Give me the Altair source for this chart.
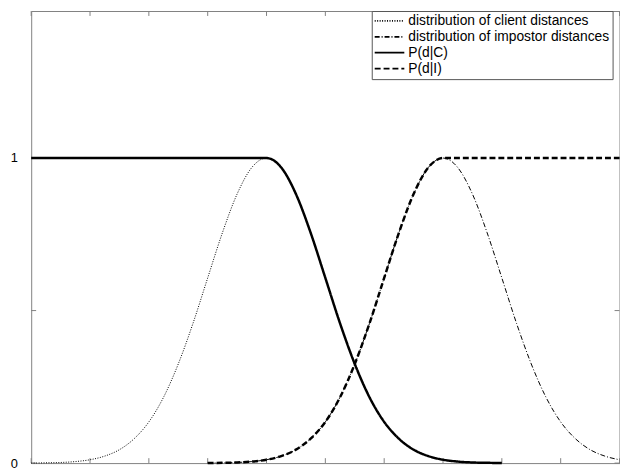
import altair as alt
import pandas as pd

# ---- data ----
series_names = ["distribution of client distances", "distribution of impostor distances", "P(d|C)", "P(d|I)"]

client_x = [0, 0.25, 0.5, 0.75, 1, 1.25, 1.5, 1.75, 2, 2.25, 2.5, 2.75, 3, 3.25, 3.5, 3.75, 4,
            4.25, 4.5, 4.75, 5, 5.25, 5.5, 5.75, 6, 6.25, 6.5, 6.75, 7, 7.25, 7.5, 7.75, 8]
client_y = [0.000, 0.001, 0.002, 0.005, 0.011, 0.023, 0.044, 0.080, 0.135, 0.216, 0.325, 0.458, 0.607, 0.755, 0.882, 0.969, 1.000,
            0.969, 0.882, 0.755, 0.607, 0.458, 0.325, 0.216, 0.135, 0.080, 0.044, 0.023, 0.011, 0.005, 0.002, 0.001, 0.000]

impostor_x = [3, 3.25, 3.5, 3.75, 4, 4.25, 4.5, 4.75, 5, 5.25, 5.5, 5.75, 6, 6.25, 6.5, 6.75, 7,
              7.25, 7.5, 7.75, 8, 8.25, 8.5, 8.75, 9, 9.25, 9.5, 9.75, 10]
impostor_y = [0.000, 0.001, 0.002, 0.005, 0.011, 0.023, 0.044, 0.080, 0.135, 0.216, 0.325, 0.458, 0.607, 0.755, 0.882, 0.969, 1.000,
              0.969, 0.882, 0.755, 0.607, 0.458, 0.325, 0.216, 0.135, 0.080, 0.044, 0.023, 0.011]

pdc_x = [0, 4, 4.25, 4.5, 4.75, 5, 5.25, 5.5, 5.75, 6, 6.25, 6.5, 6.75, 7, 7.25, 7.5, 7.75, 8]
pdc_y = [1.000, 1.000, 0.969, 0.882, 0.755, 0.607, 0.458, 0.325, 0.216, 0.135, 0.080, 0.044, 0.023, 0.011, 0.005, 0.002, 0.001, 0.000]

pdi_x = [3, 3.25, 3.5, 3.75, 4, 4.25, 4.5, 4.75, 5, 5.25, 5.5, 5.75, 6, 6.25, 6.5, 6.75, 7, 10]
pdi_y = [0.000, 0.001, 0.002, 0.005, 0.011, 0.023, 0.044, 0.080, 0.135, 0.216, 0.325, 0.458, 0.607, 0.755, 0.882, 0.969, 1.000, 1.000]

x_ticks = [0, 1, 2, 3, 4, 5, 6, 7, 8, 9, 10]
y_ticks = [0, 0.5, 1]
y_label_values = [0, 1]

# ---- build table ----
frames = []
for name, xs, ys in [(series_names[0], client_x, client_y),
                     (series_names[1], impostor_x, impostor_y),
                     (series_names[2], pdc_x, pdc_y),
                     (series_names[3], pdi_x, pdi_y)]:
    frames.append(pd.DataFrame({"series": name, "x": xs, "y": ys, "order": range(len(xs))}))
df = pd.concat(frames, ignore_index=True)

W, H = 596, 458
FRAME = "#808080"
xscale = alt.Scale(domain=[0, 10], nice=False, zero=False)
yscale = alt.Scale(domain=[0, 1.482], nice=False)

yaxis = alt.Axis(values=y_label_values, format="d",
                 ticks=False, domain=False, grid=False, title=None,
                 labelPadding=14, labelFontSize=13, labelColor="black",
                 labelFont="Liberation Sans")

dash_scale = alt.Scale(domain=series_names, range=[[1, 1.5], [5, 2, 1, 2], [1, 0], [6, 3]])

lines = alt.Chart(df).mark_line(color="black", interpolate="monotone").encode(
    x=alt.X("x:Q", scale=xscale, axis=None),
    y=alt.Y("y:Q", scale=yscale, axis=yaxis),
    strokeDash=alt.StrokeDash("series:N", scale=dash_scale, sort=series_names,
                              legend=alt.Legend(
                                  title=None, orient="none", legendX=345, legendY=0,
                                  symbolType="M-1.4,0H4.6", symbolSize=100,
                                  symbolStrokeColor="black", symbolStrokeWidth=1.8,
                                  labelOffset=20, labelFontSize=14, labelFont="Liberation Sans",
                                  labelColor="black", labelLimit=0,
                                  padding=3, rowPadding=2.1,
                                  strokeColor="#555555", fillColor="white")),
    strokeWidth=alt.condition(alt.FieldOneOfPredicate(field="series", oneOf=["P(d|C)", "P(d|I)"]),
                              alt.value(2.5), alt.value(1)),
    detail="series:N",
    order="order:Q",
)

xt = pd.DataFrame({"t": x_ticks})
yt = pd.DataFrame({"t": y_ticks})

bottom_ticks = alt.Chart(xt).mark_rule(color=FRAME, strokeWidth=1).encode(
    x=alt.X("t:Q", scale=xscale, axis=None), y=alt.value(H), y2=alt.value(H - 5))
top_ticks = alt.Chart(xt).mark_rule(color=FRAME, strokeWidth=1).encode(
    x=alt.X("t:Q", scale=xscale, axis=None), y=alt.value(0), y2=alt.value(5))
left_ticks = alt.Chart(yt).mark_rule(color=FRAME, strokeWidth=1).encode(
    y=alt.Y("t:Q", scale=yscale, axis=yaxis), x=alt.value(0), x2=alt.value(5))
right_ticks = alt.Chart(yt).mark_rule(color=FRAME, strokeWidth=1).encode(
    y=alt.Y("t:Q", scale=yscale, axis=yaxis), x=alt.value(W), x2=alt.value(W - 5))

chart = alt.layer(bottom_ticks, top_ticks, left_ticks, right_ticks, lines).properties(
    width=W, height=H,
    padding={"left": 23.5, "top": 0, "right": 0.5, "bottom": 8},
    autosize=alt.AutoSizeParams(type="none"),
    background="white",
).configure_view(stroke=FRAME, strokeWidth=1)

chart.save("out.html", embed_options={"renderer": "svg", "actions": False})
